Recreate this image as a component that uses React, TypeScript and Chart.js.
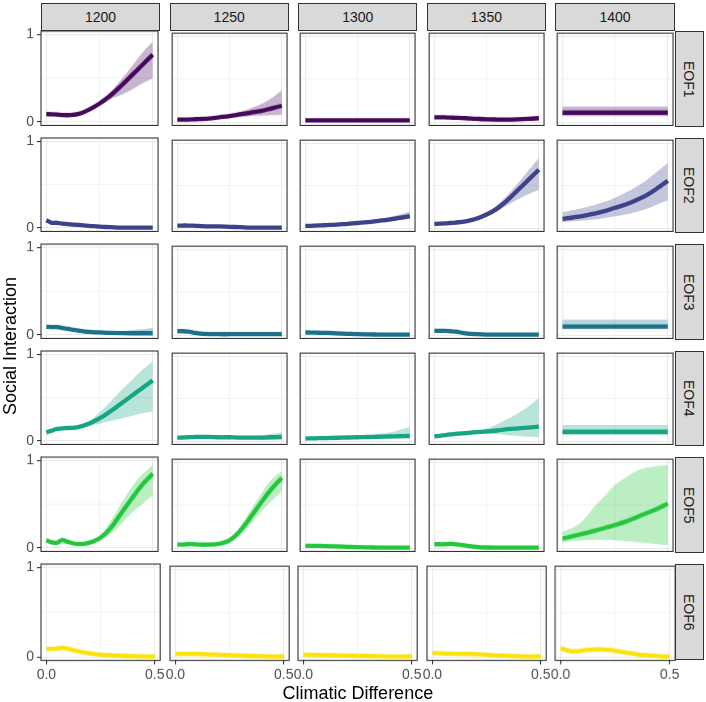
import { useEffect, useRef } from "react";
import { Chart, registerables } from "chart.js";

Chart.register(...registerables);

const years = ["1200", "1250", "1300", "1350", "1400"];
const eofs = ["EOF1", "EOF2", "EOF3", "EOF4", "EOF5", "EOF6"];
const eofColors = ["#46085c", "#3d4289", "#1c718a", "#17a684", "#22c73d", "#f9e30a"];
const climDiff = [0, 0.025, 0.05, 0.075, 0.1, 0.15, 0.2, 0.25, 0.3, 0.35, 0.4, 0.45, 0.5];
const xTicks = [0, 0.25, 0.5];
const yTicks = [0, 0.5, 1];

// fitted social interaction, one row per year (1200..1400)
const eof1Fit = [
  [0.09, 0.088, 0.085, 0.08, 0.078, 0.09, 0.14, 0.21, 0.3, 0.41, 0.53, 0.65, 0.77],
  [0.03, 0.03, 0.03, 0.032, 0.035, 0.04, 0.055, 0.07, 0.09, 0.11, 0.13, 0.16, 0.19],
  [0.02, 0.02, 0.02, 0.02, 0.02, 0.02, 0.02, 0.02, 0.02, 0.02, 0.02, 0.02, 0.02],
  [0.055, 0.055, 0.055, 0.052, 0.05, 0.045, 0.038, 0.032, 0.03, 0.03, 0.033, 0.038, 0.045],
  [0.11, 0.11, 0.11, 0.11, 0.11, 0.11, 0.11, 0.11, 0.11, 0.11, 0.11, 0.11, 0.11],
];
const eof1Lo = [
  [0.08, 0.078, 0.075, 0.07, 0.068, 0.08, 0.13, 0.19, 0.26, 0.31, 0.37, 0.44, 0.5],
  [0.02, 0.02, 0.02, 0.022, 0.025, 0.03, 0.04, 0.05, 0.06, 0.07, 0.075, 0.08, 0.085],
  [0.01, 0.01, 0.01, 0.01, 0.01, 0.01, 0.01, 0.01, 0.01, 0.01, 0.01, 0.01, 0.01],
  [0.045, 0.045, 0.045, 0.042, 0.04, 0.035, 0.03, 0.025, 0.022, 0.022, 0.024, 0.027, 0.03],
  [0.07, 0.07, 0.07, 0.07, 0.07, 0.07, 0.07, 0.07, 0.07, 0.07, 0.07, 0.07, 0.07],
];
const eof1Hi = [
  [0.1, 0.098, 0.095, 0.09, 0.088, 0.1, 0.15, 0.23, 0.34, 0.48, 0.63, 0.79, 0.92],
  [0.04, 0.04, 0.04, 0.042, 0.045, 0.05, 0.07, 0.09, 0.12, 0.16, 0.21, 0.28, 0.37],
  [0.03, 0.03, 0.03, 0.03, 0.03, 0.03, 0.03, 0.03, 0.03, 0.03, 0.03, 0.03, 0.03],
  [0.065, 0.065, 0.065, 0.062, 0.06, 0.055, 0.046, 0.04, 0.038, 0.038, 0.042, 0.049, 0.06],
  [0.18, 0.18, 0.18, 0.18, 0.18, 0.18, 0.18, 0.18, 0.18, 0.18, 0.18, 0.18, 0.18],
];

const eof2Fit = [
  [0.09, 0.06, 0.06, 0.05, 0.045, 0.035, 0.025, 0.015, 0.01, 0.005, 0.005, 0.005, 0.005],
  [0.03, 0.03, 0.03, 0.028, 0.025, 0.02, 0.02, 0.015, 0.01, 0.005, 0.005, 0.005, 0.005],
  [0.025, 0.027, 0.03, 0.032, 0.035, 0.04, 0.05, 0.06, 0.07, 0.085, 0.1, 0.12, 0.14],
  [0.05, 0.052, 0.055, 0.06, 0.065, 0.08, 0.11, 0.16, 0.23, 0.33, 0.45, 0.57, 0.69],
  [0.11, 0.117, 0.125, 0.135, 0.145, 0.17, 0.2, 0.24, 0.28, 0.33, 0.39, 0.47, 0.56],
];
const eof2Lo = [
  [0.08, 0.05, 0.05, 0.04, 0.035, 0.025, 0.015, 0.007, 0.003, 0, 0, 0, 0],
  [0.02, 0.02, 0.02, 0.018, 0.015, 0.012, 0.012, 0.008, 0.004, 0, 0, 0, 0],
  [0.015, 0.017, 0.02, 0.022, 0.025, 0.03, 0.04, 0.05, 0.058, 0.068, 0.08, 0.095, 0.11],
  [0.04, 0.042, 0.045, 0.05, 0.055, 0.07, 0.1, 0.14, 0.2, 0.27, 0.34, 0.4, 0.45],
  [0.07, 0.075, 0.08, 0.085, 0.09, 0.1, 0.12, 0.14, 0.16, 0.19, 0.23, 0.28, 0.33],
];
const eof2Hi = [
  [0.1, 0.07, 0.07, 0.06, 0.055, 0.045, 0.035, 0.025, 0.018, 0.012, 0.012, 0.012, 0.012],
  [0.04, 0.04, 0.04, 0.038, 0.035, 0.03, 0.028, 0.022, 0.016, 0.012, 0.012, 0.012, 0.012],
  [0.035, 0.037, 0.04, 0.042, 0.045, 0.05, 0.06, 0.072, 0.085, 0.105, 0.13, 0.16, 0.2],
  [0.06, 0.062, 0.065, 0.07, 0.075, 0.09, 0.12, 0.18, 0.27, 0.39, 0.53, 0.68, 0.83],
  [0.19, 0.2, 0.21, 0.225, 0.24, 0.27, 0.31, 0.36, 0.42, 0.49, 0.57, 0.67, 0.77],
];

const eof3Fit = [
  [0.095, 0.09, 0.09, 0.08, 0.07, 0.05, 0.035, 0.03, 0.025, 0.022, 0.02, 0.02, 0.02],
  [0.045, 0.045, 0.04, 0.03, 0.02, 0.012, 0.01, 0.01, 0.01, 0.01, 0.01, 0.01, 0.01],
  [0.03, 0.03, 0.028, 0.026, 0.025, 0.02, 0.015, 0.01, 0.008, 0.006, 0.005, 0.005, 0.005],
  [0.05, 0.05, 0.05, 0.045, 0.04, 0.02, 0.01, 0.005, 0.005, 0.005, 0.005, 0.005, 0.005],
  [0.1, 0.1, 0.1, 0.1, 0.1, 0.1, 0.1, 0.1, 0.1, 0.1, 0.1, 0.1, 0.1],
];
const eof3Lo = [
  [0.085, 0.08, 0.08, 0.07, 0.06, 0.04, 0.025, 0.02, 0.015, 0.01, 0.005, 0, 0],
  [0.035, 0.035, 0.03, 0.02, 0.01, 0.004, 0.002, 0.002, 0.002, 0.002, 0.002, 0.002, 0.002],
  [0.02, 0.02, 0.018, 0.016, 0.015, 0.01, 0.006, 0.003, 0.002, 0.001, 0, 0, 0],
  [0.04, 0.04, 0.04, 0.035, 0.03, 0.012, 0.003, 0, 0, 0, 0, 0, 0],
  [0.07, 0.07, 0.07, 0.07, 0.07, 0.07, 0.07, 0.07, 0.07, 0.07, 0.07, 0.07, 0.07],
];
const eof3Hi = [
  [0.105, 0.1, 0.1, 0.09, 0.08, 0.06, 0.045, 0.04, 0.04, 0.045, 0.055, 0.065, 0.08],
  [0.055, 0.055, 0.05, 0.04, 0.03, 0.02, 0.018, 0.018, 0.018, 0.018, 0.018, 0.018, 0.018],
  [0.04, 0.04, 0.038, 0.036, 0.035, 0.03, 0.024, 0.018, 0.015, 0.012, 0.012, 0.012, 0.012],
  [0.06, 0.06, 0.06, 0.055, 0.05, 0.03, 0.018, 0.012, 0.012, 0.012, 0.012, 0.012, 0.012],
  [0.18, 0.18, 0.18, 0.18, 0.18, 0.18, 0.18, 0.18, 0.18, 0.18, 0.18, 0.18, 0.18],
];

const eof4Fit = [
  [0.1, 0.12, 0.14, 0.145, 0.15, 0.16, 0.2, 0.26, 0.34, 0.43, 0.52, 0.61, 0.7],
  [0.04, 0.042, 0.045, 0.047, 0.05, 0.05, 0.045, 0.045, 0.04, 0.04, 0.04, 0.045, 0.05],
  [0.03, 0.032, 0.033, 0.035, 0.036, 0.039, 0.042, 0.045, 0.048, 0.051, 0.054, 0.057, 0.06],
  [0.055, 0.062, 0.07, 0.078, 0.085, 0.095, 0.105, 0.115, 0.125, 0.14, 0.15, 0.16, 0.17],
  [0.11, 0.11, 0.11, 0.11, 0.11, 0.11, 0.11, 0.11, 0.11, 0.11, 0.11, 0.11, 0.11],
];
const eof4Lo = [
  [0.09, 0.11, 0.13, 0.135, 0.14, 0.15, 0.17, 0.2, 0.23, 0.26, 0.29, 0.32, 0.34],
  [0.03, 0.032, 0.035, 0.037, 0.04, 0.04, 0.035, 0.035, 0.03, 0.025, 0.02, 0.015, 0.01],
  [0.02, 0.022, 0.023, 0.025, 0.026, 0.029, 0.032, 0.035, 0.037, 0.04, 0.042, 0.045, 0.048],
  [0.05, 0.057, 0.065, 0.072, 0.08, 0.09, 0.09, 0.085, 0.08, 0.07, 0.06, 0.05, 0.045],
  [0.07, 0.07, 0.07, 0.07, 0.07, 0.07, 0.07, 0.07, 0.07, 0.07, 0.07, 0.07, 0.07],
];
const eof4Hi = [
  [0.11, 0.13, 0.15, 0.155, 0.16, 0.18, 0.23, 0.33, 0.45, 0.58, 0.7, 0.82, 0.92],
  [0.05, 0.052, 0.055, 0.057, 0.06, 0.06, 0.055, 0.055, 0.055, 0.06, 0.07, 0.085, 0.1],
  [0.04, 0.042, 0.043, 0.045, 0.046, 0.05, 0.055, 0.06, 0.07, 0.085, 0.1, 0.13, 0.165],
  [0.06, 0.068, 0.075, 0.083, 0.09, 0.1, 0.12, 0.15, 0.2, 0.26, 0.33, 0.41, 0.51],
  [0.19, 0.19, 0.19, 0.19, 0.19, 0.19, 0.19, 0.19, 0.19, 0.19, 0.19, 0.19, 0.19],
];

const eof5Fit = [
  [0.09, 0.065, 0.06, 0.09, 0.07, 0.045, 0.06, 0.11, 0.22, 0.39, 0.56, 0.72, 0.85],
  [0.04, 0.04, 0.045, 0.045, 0.04, 0.04, 0.05, 0.09, 0.2, 0.36, 0.53, 0.69, 0.82],
  [0.025, 0.025, 0.025, 0.025, 0.022, 0.02, 0.015, 0.01, 0.008, 0.006, 0.005, 0.005, 0.005],
  [0.045, 0.045, 0.045, 0.05, 0.045, 0.03, 0.015, 0.007, 0.005, 0.005, 0.005, 0.005, 0.005],
  [0.11, 0.125, 0.14, 0.155, 0.17, 0.2, 0.235, 0.27, 0.31, 0.36, 0.41, 0.46, 0.52],
];
const eof5Lo = [
  [0.08, 0.055, 0.05, 0.08, 0.06, 0.035, 0.05, 0.09, 0.16, 0.27, 0.4, 0.5, 0.6],
  [0.03, 0.03, 0.035, 0.035, 0.03, 0.03, 0.04, 0.07, 0.15, 0.28, 0.42, 0.55, 0.66],
  [0.015, 0.015, 0.015, 0.015, 0.013, 0.012, 0.008, 0.004, 0.002, 0.001, 0, 0, 0],
  [0.035, 0.035, 0.035, 0.04, 0.035, 0.02, 0.007, 0.001, 0, 0, 0, 0, 0],
  [0.07, 0.075, 0.08, 0.085, 0.09, 0.095, 0.095, 0.09, 0.08, 0.07, 0.06, 0.045, 0.035],
];
const eof5Hi = [
  [0.1, 0.075, 0.07, 0.1, 0.08, 0.055, 0.07, 0.13, 0.3, 0.5, 0.69, 0.84, 0.95],
  [0.05, 0.05, 0.055, 0.055, 0.05, 0.05, 0.06, 0.11, 0.25, 0.44, 0.63, 0.8, 0.9],
  [0.035, 0.035, 0.035, 0.035, 0.031, 0.028, 0.022, 0.016, 0.014, 0.012, 0.012, 0.012, 0.012],
  [0.055, 0.055, 0.055, 0.06, 0.055, 0.04, 0.023, 0.014, 0.012, 0.012, 0.012, 0.012, 0.012],
  [0.19, 0.215, 0.24, 0.28, 0.33, 0.48, 0.61, 0.74, 0.83, 0.9, 0.94, 0.96, 0.97],
];

const eof6Fit = [
  [0.09, 0.09, 0.095, 0.1, 0.09, 0.06, 0.04, 0.025, 0.018, 0.012, 0.008, 0.005, 0.005],
  [0.035, 0.035, 0.035, 0.035, 0.035, 0.03, 0.025, 0.02, 0.015, 0.01, 0.008, 0.005, 0.005],
  [0.025, 0.025, 0.023, 0.022, 0.02, 0.018, 0.015, 0.012, 0.01, 0.008, 0.006, 0.005, 0.005],
  [0.045, 0.043, 0.04, 0.038, 0.035, 0.035, 0.033, 0.025, 0.018, 0.012, 0.008, 0.005, 0.005],
  [0.1, 0.08, 0.065, 0.065, 0.072, 0.085, 0.085, 0.07, 0.05, 0.03, 0.018, 0.01, 0.005],
];
const eof6Lo = [
  [0.08, 0.08, 0.085, 0.09, 0.08, 0.05, 0.03, 0.015, 0.008, 0.003, 0, 0, 0],
  [0.025, 0.025, 0.025, 0.025, 0.025, 0.02, 0.015, 0.01, 0.006, 0.002, 0, 0, 0],
  [0.015, 0.015, 0.013, 0.012, 0.01, 0.008, 0.006, 0.004, 0.002, 0, 0, 0, 0],
  [0.035, 0.033, 0.03, 0.028, 0.025, 0.025, 0.023, 0.015, 0.008, 0.003, 0, 0, 0],
  [0.08, 0.06, 0.045, 0.045, 0.052, 0.065, 0.065, 0.05, 0.032, 0.015, 0.005, 0, 0],
];
const eof6Hi = [
  [0.1, 0.1, 0.105, 0.11, 0.1, 0.07, 0.05, 0.035, 0.028, 0.022, 0.018, 0.015, 0.015],
  [0.045, 0.045, 0.045, 0.045, 0.045, 0.04, 0.035, 0.03, 0.025, 0.02, 0.018, 0.015, 0.015],
  [0.035, 0.035, 0.033, 0.032, 0.03, 0.028, 0.025, 0.022, 0.02, 0.018, 0.016, 0.015, 0.015],
  [0.055, 0.053, 0.05, 0.048, 0.045, 0.045, 0.043, 0.035, 0.028, 0.022, 0.018, 0.015, 0.015],
  [0.125, 0.1, 0.085, 0.085, 0.092, 0.105, 0.105, 0.09, 0.07, 0.048, 0.032, 0.022, 0.018],
];

const fits = [eof1Fit, eof2Fit, eof3Fit, eof4Fit, eof5Fit, eof6Fit];
const lows = [eof1Lo, eof2Lo, eof3Lo, eof4Lo, eof5Lo, eof6Lo];
const highs = [eof1Hi, eof2Hi, eof3Hi, eof4Hi, eof5Hi, eof6Hi];

const FONT = '"Liberation Sans", Arial, Helvetica, sans-serif';
const PANEL_W = 119.2;
const PANEL_H = 95.6;
const colLeft = (i: number) => 41 + i * 128.6;
const rowTop = (j: number) => 31 + j * 106.6;

function hexAlpha(hex: string, a: number) {
  const n = parseInt(hex.slice(1), 16);
  return `rgba(${(n >> 16) & 255},${(n >> 8) & 255},${n & 255},${a})`;
}

const panelBorder = {
  id: "panelBorder",
  afterDatasetsDraw(chart: Chart) {
    const { ctx, chartArea: a } = chart;
    ctx.save();
    ctx.strokeStyle = "#333333";
    ctx.lineWidth = 1.1;
    ctx.strokeRect(a.left, a.top, a.right - a.left, a.bottom - a.top);
    ctx.restore();
  },
};

function Panel({ row, col }: { row: number; col: number }) {
  const canvasRef = useRef<HTMLCanvasElement>(null);
  const isLeft = col === 0;
  const isBottom = row === eofs.length - 1;
  const extL = isLeft ? 30 : isBottom ? 14 : 0;
  const extR = isBottom ? 14 : 0;
  const extT = isLeft ? 8 : 0;
  const extB = isBottom ? 28 : 0;

  useEffect(() => {
    if (!canvasRef.current) return;
    const color = eofColors[row];
    const pts = (ys: number[]) => climDiff.map((x, k) => ({ x, y: ys[k] }));
    const chart = new Chart(canvasRef.current, {
      type: "line",
      data: {
        datasets: [
          {
            data: pts(fits[row][col]),
            borderColor: color,
            borderWidth: 4.3,
            borderJoinStyle: "round",
            pointRadius: 0,
            tension: 0.4,
            fill: false,
          },
          {
            data: pts(lows[row][col]),
            borderWidth: 0,
            borderColor: "rgba(0,0,0,0)",
            pointRadius: 0,
            tension: 0.4,
            fill: false,
          },
          {
            data: pts(highs[row][col]),
            borderWidth: 0,
            borderColor: "rgba(0,0,0,0)",
            backgroundColor: hexAlpha(color, 0.3),
            pointRadius: 0,
            tension: 0.4,
            fill: "-1",
          },
        ],
      },
      options: {
        animation: false,
        responsive: true,
        maintainAspectRatio: false,
        events: [],
        layout: { padding: { left: isLeft ? 0 : extL, right: extR, top: extT, bottom: 0 } },
        plugins: { legend: { display: false }, tooltip: { enabled: false } },
        scales: {
          x: {
            type: "linear",
            min: -0.025,
            max: 0.525,
            afterBuildTicks: (s: any) => {
              s.ticks = xTicks.map((v) => ({ value: v }));
            },
            afterFit: (s: any) => {
              s.height = extB;
              s.paddingLeft = 0;
              s.paddingRight = 0;
            },
            ticks: {
              display: isBottom,
              autoSkip: false,
              maxRotation: 0,
              padding: 2,
              color: "#4d4d4d",
              font: { family: FONT, size: 14 },
              callback: (v: any) => (v === 0.25 ? "" : Number(v).toFixed(1)),
            },
            grid: {
              color: "#ebebeb",
              lineWidth: (c: any) => (c.tick && c.tick.value === 0.25 ? 0.6 : 1.1),
              drawTicks: isBottom,
              tickLength: 4,
              tickWidth: 1.1,
              tickColor: (c: any) => (c.tick && c.tick.value === 0.25 ? "rgba(0,0,0,0)" : "#333333"),
            },
            border: { display: false },
          },
          y: {
            type: "linear",
            min: -0.04,
            max: 1.04,
            afterBuildTicks: (s: any) => {
              s.ticks = yTicks.map((v) => ({ value: v }));
            },
            afterFit: (s: any) => {
              s.width = isLeft ? extL : 0;
              s.paddingTop = 0;
              s.paddingBottom = 0;
            },
            ticks: {
              display: isLeft,
              padding: 3,
              color: "#4d4d4d",
              font: { family: FONT, size: 14 },
              callback: (v: any) => (v === 0.5 ? "" : String(v)),
            },
            grid: {
              color: "#ebebeb",
              lineWidth: (c: any) => (c.tick && c.tick.value === 0.5 ? 0.6 : 1.1),
              drawTicks: isLeft,
              tickLength: 4,
              tickWidth: 1.1,
              tickColor: (c: any) => (c.tick && c.tick.value === 0.5 ? "rgba(0,0,0,0)" : "#333333"),
            },
            border: { display: false },
          },
        },
      },
      plugins: [panelBorder],
    });
    return () => chart.destroy();
  }, [row, col]);

  return (
    <div
      style={{
        position: "absolute",
        left: colLeft(col) - extL,
        top: rowTop(row) - extT,
        width: PANEL_W + extL + extR,
        height: PANEL_H + extT + extB,
      }}
    >
      <canvas ref={canvasRef} />
    </div>
  );
}

const stripStyle = {
  position: "absolute" as const,
  boxSizing: "border-box" as const,
  background: "#d9d9d9",
  border: "1px solid #333333",
  color: "#1a1a1a",
  fontFamily: FONT,
  fontSize: 14,
  display: "flex",
  alignItems: "center",
  justifyContent: "center",
};

export default function App() {
  return (
    <div style={{ position: "absolute", left: 0, top: 0, width: 706, height: 702, background: "#ffffff", overflow: "hidden" }}>
      {years.map((yr, i) => (
        <div key={yr} style={{ ...stripStyle, left: colLeft(i), top: 3, width: PANEL_W, height: 28 }}>
          {yr}
        </div>
      ))}
      {eofs.map((e, j) => (
        <div
          key={e}
          style={{
            ...stripStyle,
            left: colLeft(years.length - 1) + PANEL_W,
            top: rowTop(j),
            width: 29.4,
            height: PANEL_H,
            writingMode: "vertical-rl",
          }}
        >
          {e}
        </div>
      ))}
      {eofs.map((e, j) => years.map((yr, i) => <Panel key={e + yr} row={j} col={i} />))}
      <div
        style={{
          position: "absolute",
          left: 10 - 150,
          top: 345.5 - 11,
          width: 300,
          height: 22,
          lineHeight: "22px",
          textAlign: "center",
          transform: "rotate(-90deg)",
          fontFamily: FONT,
          fontSize: 18,
          color: "#000000",
        }}
      >
        Social Interaction
      </div>
      <div
        style={{
          position: "absolute",
          left: colLeft(0),
          top: 682,
          width: colLeft(years.length - 1) + PANEL_W - colLeft(0),
          height: 22,
          lineHeight: "22px",
          textAlign: "center",
          fontFamily: FONT,
          fontSize: 18,
          color: "#000000",
        }}
      >
        Climatic Difference
      </div>
    </div>
  );
}
